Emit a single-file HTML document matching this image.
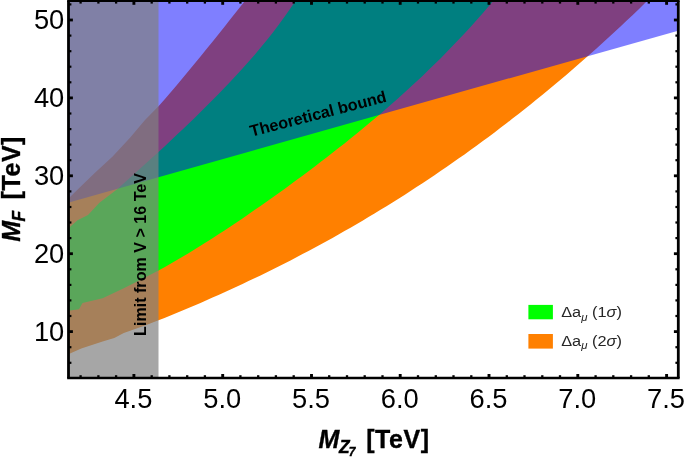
<!DOCTYPE html>
<html><head><meta charset="utf-8"><title>plot</title>
<style>
html,body{margin:0;padding:0;background:#fff;}
body{width:685px;height:458px;overflow:hidden;}
svg{display:block;font-family:"Liberation Sans",sans-serif;}
</style></head><body>
<svg width="685" height="458" viewBox="0 0 685 458">
<defs><clipPath id="c"><rect x="68.5" y="0.85" width="609.8" height="377.15"/></clipPath></defs>
<rect width="685" height="458" fill="#fff"/>
<g clip-path="url(#c)">
<polygon points="66.0,201.5 70.5,196.6 82.8,184.4 95.0,172.8 112.6,156.5 130.0,137.8 145.0,120.0 158.5,106.3 164.5,99.4 170.5,92.5 176.5,85.4 182.5,78.3 188.5,71.1 194.5,63.8 200.5,56.5 206.5,49.1 212.5,41.7 218.5,34.2 224.5,26.7 230.5,19.1 236.5,11.6 242.5,4.1 248.5,-3.4 656.5,-8.1 650.5,-2.2 644.5,3.6 638.5,9.4 632.5,15.2 626.5,20.8 620.5,26.5 614.5,32.0 608.5,37.6 602.5,43.0 596.5,48.4 590.5,53.8 584.5,59.1 578.5,64.3 572.5,69.5 566.5,74.7 560.5,79.8 554.5,84.8 548.5,89.8 542.5,94.7 536.5,99.6 530.5,104.4 524.5,109.2 518.5,113.9 512.5,118.6 506.5,123.3 500.5,127.8 494.5,132.4 488.5,136.9 482.5,141.3 476.5,145.7 470.5,150.1 464.5,154.4 458.5,158.6 452.5,162.8 446.5,167.0 440.5,171.1 434.5,175.2 428.5,179.2 422.5,183.2 416.5,187.1 410.5,191.0 404.5,194.9 398.5,198.7 392.5,202.4 386.5,206.2 380.5,209.8 374.5,213.5 368.5,217.1 362.5,220.7 356.5,224.2 350.5,227.7 344.5,231.1 338.5,234.5 332.5,237.9 326.5,241.2 320.5,244.5 314.5,247.7 308.5,251.0 302.5,254.1 296.5,257.3 290.5,260.4 284.5,263.5 278.5,266.5 272.5,269.5 266.5,272.4 260.5,275.4 254.5,278.3 248.5,281.1 242.5,284.0 236.5,286.8 230.5,289.5 224.5,292.3 218.5,295.0 212.5,297.6 206.5,300.3 200.5,302.9 194.5,305.5 188.5,308.0 182.5,310.5 176.5,313.0 170.5,315.5 164.5,317.9 158.5,320.3 145.0,325.4 123.8,333.0 114.3,338.0 102.6,341.6 81.3,348.6 70.0,353.4 66.0,355.0" fill="#ff8000"/>
<polygon points="66.0,230.0 70.5,226.4 77.5,220.3 88.0,215.0 99.4,202.8 117.8,188.8 158.5,152.0 164.5,146.5 170.5,140.8 176.5,135.1 182.5,129.4 188.5,123.7 194.5,117.9 200.5,112.0 206.5,106.1 212.5,100.1 218.5,94.0 224.5,87.8 230.5,81.5 236.5,75.1 242.5,68.5 248.5,61.8 254.5,54.9 260.5,47.8 266.5,40.4 272.5,32.9 278.5,25.0 284.5,16.8 290.5,8.3 296.5,-0.5 302.5,-9.8 500.5,-8.0 494.5,-0.7 488.5,6.4 482.5,13.4 476.5,20.2 470.5,26.9 464.5,33.4 458.5,39.8 452.5,46.1 446.5,52.3 440.5,58.4 434.5,64.3 428.5,70.1 422.5,75.9 416.5,81.5 410.5,87.1 404.5,92.6 398.5,98.0 392.5,103.3 386.5,108.5 380.5,113.7 374.5,118.8 368.5,123.8 362.5,128.8 356.5,133.7 350.5,138.6 344.5,143.4 338.5,148.1 332.5,152.8 326.5,157.5 320.5,162.1 314.5,166.7 308.5,171.2 302.5,175.7 296.5,180.1 290.5,184.5 284.5,188.9 278.5,193.2 272.5,197.5 266.5,201.8 260.5,206.0 254.5,210.1 248.5,214.3 242.5,218.4 236.5,222.4 230.5,226.4 224.5,230.4 218.5,234.3 212.5,238.2 206.5,242.0 200.5,245.8 194.5,249.5 188.5,253.2 182.5,256.8 176.5,260.3 170.5,263.8 164.5,267.3 158.5,270.6 145.0,277.6 123.8,288.2 102.6,298.2 82.5,303.0 79.0,309.3 70.0,310.5 66.0,311.0" fill="#00ff00"/>
<polygon points="66.0,203.2 682.0,29.6 682.0,-2.0 66.0,-2.0" fill="#0000ff" fill-opacity="0.5"/>
<rect x="60" y="-2" width="98.5" height="385" fill="#808080" fill-opacity="0.7"/>
</g>
<g stroke="#000" fill="none">
<line x1="80.6" y1="378.0" x2="80.6" y2="375.2" stroke-width="2.3"/>
<line x1="80.6" y1="0.85" x2="80.6" y2="3.6" stroke-width="2.3"/>
<line x1="98.4" y1="378.0" x2="98.4" y2="375.2" stroke-width="2.3"/>
<line x1="98.4" y1="0.85" x2="98.4" y2="3.6" stroke-width="2.3"/>
<line x1="116.1" y1="378.0" x2="116.1" y2="375.2" stroke-width="2.3"/>
<line x1="116.1" y1="0.85" x2="116.1" y2="3.6" stroke-width="2.3"/>
<line x1="133.9" y1="378.0" x2="133.9" y2="374.0" stroke-width="2.9"/>
<line x1="133.9" y1="0.85" x2="133.9" y2="4.8" stroke-width="2.9"/>
<line x1="151.7" y1="378.0" x2="151.7" y2="375.2" stroke-width="2.3"/>
<line x1="151.7" y1="0.85" x2="151.7" y2="3.6" stroke-width="2.3"/>
<line x1="169.4" y1="378.0" x2="169.4" y2="375.2" stroke-width="2.3"/>
<line x1="169.4" y1="0.85" x2="169.4" y2="3.6" stroke-width="2.3"/>
<line x1="187.2" y1="378.0" x2="187.2" y2="375.2" stroke-width="2.3"/>
<line x1="187.2" y1="0.85" x2="187.2" y2="3.6" stroke-width="2.3"/>
<line x1="204.9" y1="378.0" x2="204.9" y2="375.2" stroke-width="2.3"/>
<line x1="204.9" y1="0.85" x2="204.9" y2="3.6" stroke-width="2.3"/>
<line x1="222.7" y1="378.0" x2="222.7" y2="374.0" stroke-width="2.9"/>
<line x1="222.7" y1="0.85" x2="222.7" y2="4.8" stroke-width="2.9"/>
<line x1="240.4" y1="378.0" x2="240.4" y2="375.2" stroke-width="2.3"/>
<line x1="240.4" y1="0.85" x2="240.4" y2="3.6" stroke-width="2.3"/>
<line x1="258.2" y1="378.0" x2="258.2" y2="375.2" stroke-width="2.3"/>
<line x1="258.2" y1="0.85" x2="258.2" y2="3.6" stroke-width="2.3"/>
<line x1="275.9" y1="378.0" x2="275.9" y2="375.2" stroke-width="2.3"/>
<line x1="275.9" y1="0.85" x2="275.9" y2="3.6" stroke-width="2.3"/>
<line x1="293.7" y1="378.0" x2="293.7" y2="375.2" stroke-width="2.3"/>
<line x1="293.7" y1="0.85" x2="293.7" y2="3.6" stroke-width="2.3"/>
<line x1="311.5" y1="378.0" x2="311.5" y2="374.0" stroke-width="2.9"/>
<line x1="311.5" y1="0.85" x2="311.5" y2="4.8" stroke-width="2.9"/>
<line x1="329.2" y1="378.0" x2="329.2" y2="375.2" stroke-width="2.3"/>
<line x1="329.2" y1="0.85" x2="329.2" y2="3.6" stroke-width="2.3"/>
<line x1="347.0" y1="378.0" x2="347.0" y2="375.2" stroke-width="2.3"/>
<line x1="347.0" y1="0.85" x2="347.0" y2="3.6" stroke-width="2.3"/>
<line x1="364.7" y1="378.0" x2="364.7" y2="375.2" stroke-width="2.3"/>
<line x1="364.7" y1="0.85" x2="364.7" y2="3.6" stroke-width="2.3"/>
<line x1="382.5" y1="378.0" x2="382.5" y2="375.2" stroke-width="2.3"/>
<line x1="382.5" y1="0.85" x2="382.5" y2="3.6" stroke-width="2.3"/>
<line x1="400.2" y1="378.0" x2="400.2" y2="374.0" stroke-width="2.9"/>
<line x1="400.2" y1="0.85" x2="400.2" y2="4.8" stroke-width="2.9"/>
<line x1="418.0" y1="378.0" x2="418.0" y2="375.2" stroke-width="2.3"/>
<line x1="418.0" y1="0.85" x2="418.0" y2="3.6" stroke-width="2.3"/>
<line x1="435.8" y1="378.0" x2="435.8" y2="375.2" stroke-width="2.3"/>
<line x1="435.8" y1="0.85" x2="435.8" y2="3.6" stroke-width="2.3"/>
<line x1="453.5" y1="378.0" x2="453.5" y2="375.2" stroke-width="2.3"/>
<line x1="453.5" y1="0.85" x2="453.5" y2="3.6" stroke-width="2.3"/>
<line x1="471.3" y1="378.0" x2="471.3" y2="375.2" stroke-width="2.3"/>
<line x1="471.3" y1="0.85" x2="471.3" y2="3.6" stroke-width="2.3"/>
<line x1="489.0" y1="378.0" x2="489.0" y2="374.0" stroke-width="2.9"/>
<line x1="489.0" y1="0.85" x2="489.0" y2="4.8" stroke-width="2.9"/>
<line x1="506.8" y1="378.0" x2="506.8" y2="375.2" stroke-width="2.3"/>
<line x1="506.8" y1="0.85" x2="506.8" y2="3.6" stroke-width="2.3"/>
<line x1="524.5" y1="378.0" x2="524.5" y2="375.2" stroke-width="2.3"/>
<line x1="524.5" y1="0.85" x2="524.5" y2="3.6" stroke-width="2.3"/>
<line x1="542.3" y1="378.0" x2="542.3" y2="375.2" stroke-width="2.3"/>
<line x1="542.3" y1="0.85" x2="542.3" y2="3.6" stroke-width="2.3"/>
<line x1="560.0" y1="378.0" x2="560.0" y2="375.2" stroke-width="2.3"/>
<line x1="560.0" y1="0.85" x2="560.0" y2="3.6" stroke-width="2.3"/>
<line x1="577.8" y1="378.0" x2="577.8" y2="374.0" stroke-width="2.9"/>
<line x1="577.8" y1="0.85" x2="577.8" y2="4.8" stroke-width="2.9"/>
<line x1="595.6" y1="378.0" x2="595.6" y2="375.2" stroke-width="2.3"/>
<line x1="595.6" y1="0.85" x2="595.6" y2="3.6" stroke-width="2.3"/>
<line x1="613.3" y1="378.0" x2="613.3" y2="375.2" stroke-width="2.3"/>
<line x1="613.3" y1="0.85" x2="613.3" y2="3.6" stroke-width="2.3"/>
<line x1="631.1" y1="378.0" x2="631.1" y2="375.2" stroke-width="2.3"/>
<line x1="631.1" y1="0.85" x2="631.1" y2="3.6" stroke-width="2.3"/>
<line x1="648.8" y1="378.0" x2="648.8" y2="375.2" stroke-width="2.3"/>
<line x1="648.8" y1="0.85" x2="648.8" y2="3.6" stroke-width="2.3"/>
<line x1="666.6" y1="378.0" x2="666.6" y2="374.0" stroke-width="2.9"/>
<line x1="666.6" y1="0.85" x2="666.6" y2="4.8" stroke-width="2.9"/>
<line x1="68.5" y1="4.4" x2="71.4" y2="4.4" stroke-width="2.2"/>
<line x1="678.3" y1="4.4" x2="675.4" y2="4.4" stroke-width="2.2"/>
<line x1="68.5" y1="20.0" x2="72.9" y2="20.0" stroke-width="2.8"/>
<line x1="678.3" y1="20.0" x2="673.9" y2="20.0" stroke-width="2.8"/>
<line x1="68.5" y1="35.6" x2="71.4" y2="35.6" stroke-width="2.2"/>
<line x1="678.3" y1="35.6" x2="675.4" y2="35.6" stroke-width="2.2"/>
<line x1="68.5" y1="51.2" x2="71.4" y2="51.2" stroke-width="2.2"/>
<line x1="678.3" y1="51.2" x2="675.4" y2="51.2" stroke-width="2.2"/>
<line x1="68.5" y1="66.7" x2="71.4" y2="66.7" stroke-width="2.2"/>
<line x1="678.3" y1="66.7" x2="675.4" y2="66.7" stroke-width="2.2"/>
<line x1="68.5" y1="82.3" x2="71.4" y2="82.3" stroke-width="2.2"/>
<line x1="678.3" y1="82.3" x2="675.4" y2="82.3" stroke-width="2.2"/>
<line x1="68.5" y1="97.9" x2="72.9" y2="97.9" stroke-width="2.8"/>
<line x1="678.3" y1="97.9" x2="673.9" y2="97.9" stroke-width="2.8"/>
<line x1="68.5" y1="113.5" x2="71.4" y2="113.5" stroke-width="2.2"/>
<line x1="678.3" y1="113.5" x2="675.4" y2="113.5" stroke-width="2.2"/>
<line x1="68.5" y1="129.1" x2="71.4" y2="129.1" stroke-width="2.2"/>
<line x1="678.3" y1="129.1" x2="675.4" y2="129.1" stroke-width="2.2"/>
<line x1="68.5" y1="144.6" x2="71.4" y2="144.6" stroke-width="2.2"/>
<line x1="678.3" y1="144.6" x2="675.4" y2="144.6" stroke-width="2.2"/>
<line x1="68.5" y1="160.2" x2="71.4" y2="160.2" stroke-width="2.2"/>
<line x1="678.3" y1="160.2" x2="675.4" y2="160.2" stroke-width="2.2"/>
<line x1="68.5" y1="175.8" x2="72.9" y2="175.8" stroke-width="2.8"/>
<line x1="678.3" y1="175.8" x2="673.9" y2="175.8" stroke-width="2.8"/>
<line x1="68.5" y1="191.4" x2="71.4" y2="191.4" stroke-width="2.2"/>
<line x1="678.3" y1="191.4" x2="675.4" y2="191.4" stroke-width="2.2"/>
<line x1="68.5" y1="207.0" x2="71.4" y2="207.0" stroke-width="2.2"/>
<line x1="678.3" y1="207.0" x2="675.4" y2="207.0" stroke-width="2.2"/>
<line x1="68.5" y1="222.5" x2="71.4" y2="222.5" stroke-width="2.2"/>
<line x1="678.3" y1="222.5" x2="675.4" y2="222.5" stroke-width="2.2"/>
<line x1="68.5" y1="238.1" x2="71.4" y2="238.1" stroke-width="2.2"/>
<line x1="678.3" y1="238.1" x2="675.4" y2="238.1" stroke-width="2.2"/>
<line x1="68.5" y1="253.7" x2="72.9" y2="253.7" stroke-width="2.8"/>
<line x1="678.3" y1="253.7" x2="673.9" y2="253.7" stroke-width="2.8"/>
<line x1="68.5" y1="269.3" x2="71.4" y2="269.3" stroke-width="2.2"/>
<line x1="678.3" y1="269.3" x2="675.4" y2="269.3" stroke-width="2.2"/>
<line x1="68.5" y1="284.9" x2="71.4" y2="284.9" stroke-width="2.2"/>
<line x1="678.3" y1="284.9" x2="675.4" y2="284.9" stroke-width="2.2"/>
<line x1="68.5" y1="300.4" x2="71.4" y2="300.4" stroke-width="2.2"/>
<line x1="678.3" y1="300.4" x2="675.4" y2="300.4" stroke-width="2.2"/>
<line x1="68.5" y1="316.0" x2="71.4" y2="316.0" stroke-width="2.2"/>
<line x1="678.3" y1="316.0" x2="675.4" y2="316.0" stroke-width="2.2"/>
<line x1="68.5" y1="331.6" x2="72.9" y2="331.6" stroke-width="2.8"/>
<line x1="678.3" y1="331.6" x2="673.9" y2="331.6" stroke-width="2.8"/>
<line x1="68.5" y1="347.2" x2="71.4" y2="347.2" stroke-width="2.2"/>
<line x1="678.3" y1="347.2" x2="675.4" y2="347.2" stroke-width="2.2"/>
<line x1="68.5" y1="362.8" x2="71.4" y2="362.8" stroke-width="2.2"/>
<line x1="678.3" y1="362.8" x2="675.4" y2="362.8" stroke-width="2.2"/>
<line x1="67.15" y1="0.85" x2="679.65" y2="0.85" stroke-width="2.4"/>
<line x1="67.15" y1="378.0" x2="679.65" y2="378.0" stroke-width="2.4"/>
<line x1="68.5" y1="0.85" x2="68.5" y2="378.0" stroke-width="2.8"/>
<line x1="678.3" y1="0.85" x2="678.3" y2="378.0" stroke-width="2.8"/>
</g>
<g font-size="27.3px" fill="#000">
<text x="133.4" y="407.6" text-anchor="middle">4.5</text>
<text x="222.2" y="407.6" text-anchor="middle">5.0</text>
<text x="311.0" y="407.6" text-anchor="middle">5.5</text>
<text x="399.7" y="407.6" text-anchor="middle">6.0</text>
<text x="488.5" y="407.6" text-anchor="middle">6.5</text>
<text x="577.3" y="407.6" text-anchor="middle">7.0</text>
<text x="666.1" y="407.6" text-anchor="middle">7.5</text>
<text x="64.3" y="29.3" text-anchor="end">50</text>
<text x="64.3" y="107.2" text-anchor="end">40</text>
<text x="64.3" y="185.1" text-anchor="end">30</text>
<text x="64.3" y="263.0" text-anchor="end">20</text>
<text x="64.3" y="340.9" text-anchor="end">10</text>
</g>
<text transform="translate(251.6,136.8) rotate(-14.6)" font-size="16.2px" font-weight="bold" fill="#000">Theoretical bound</text>
<text transform="translate(145.6,335.9) rotate(-90)" font-size="16.1px" font-weight="bold" fill="#000">Limit from V &gt; 16 TeV</text>
<rect x="528.4" y="304.9" width="24.5" height="14.4" fill="#00ff00"/>
<rect x="528.4" y="334" width="24.5" height="14.6" fill="#ff8000"/>
<g font-size="15px" fill="#262626">
<text transform="translate(561.2,317) scale(1.09,1)">Δa<tspan font-size="10.5px" dy="3.5" font-style="italic">μ</tspan><tspan dy="-3.5"> (1</tspan><tspan font-style="italic">σ</tspan>)</text>
<text transform="translate(561.2,345.6) scale(1.09,1)">Δa<tspan font-size="10.5px" dy="3.5" font-style="italic">μ</tspan><tspan dy="-3.5"> (2</tspan><tspan font-style="italic">σ</tspan>)</text>
</g>
<g font-size="25px" font-weight="bold" fill="#000" stroke="#000" stroke-width="0.35">
<text x="318.6" y="447.7"><tspan font-style="italic">M</tspan><tspan font-style="italic" font-size="17.5px" dy="5.2" dx="-0.5">Z</tspan><tspan font-style="italic" font-size="12px" dy="3.2" dx="-0.8">7</tspan></text>
<text x="366.2" y="447.9" letter-spacing="0.55">[TeV]</text>
<text transform="translate(19.8,241.8) rotate(-90)"><tspan font-style="italic">M</tspan><tspan font-style="italic" font-size="17.5px" dy="5.2" dx="-0.5">F</tspan></text>
<text transform="translate(20,199.4) rotate(-90)" letter-spacing="0.55">[TeV]</text>
</g>
</svg>
</body></html>
